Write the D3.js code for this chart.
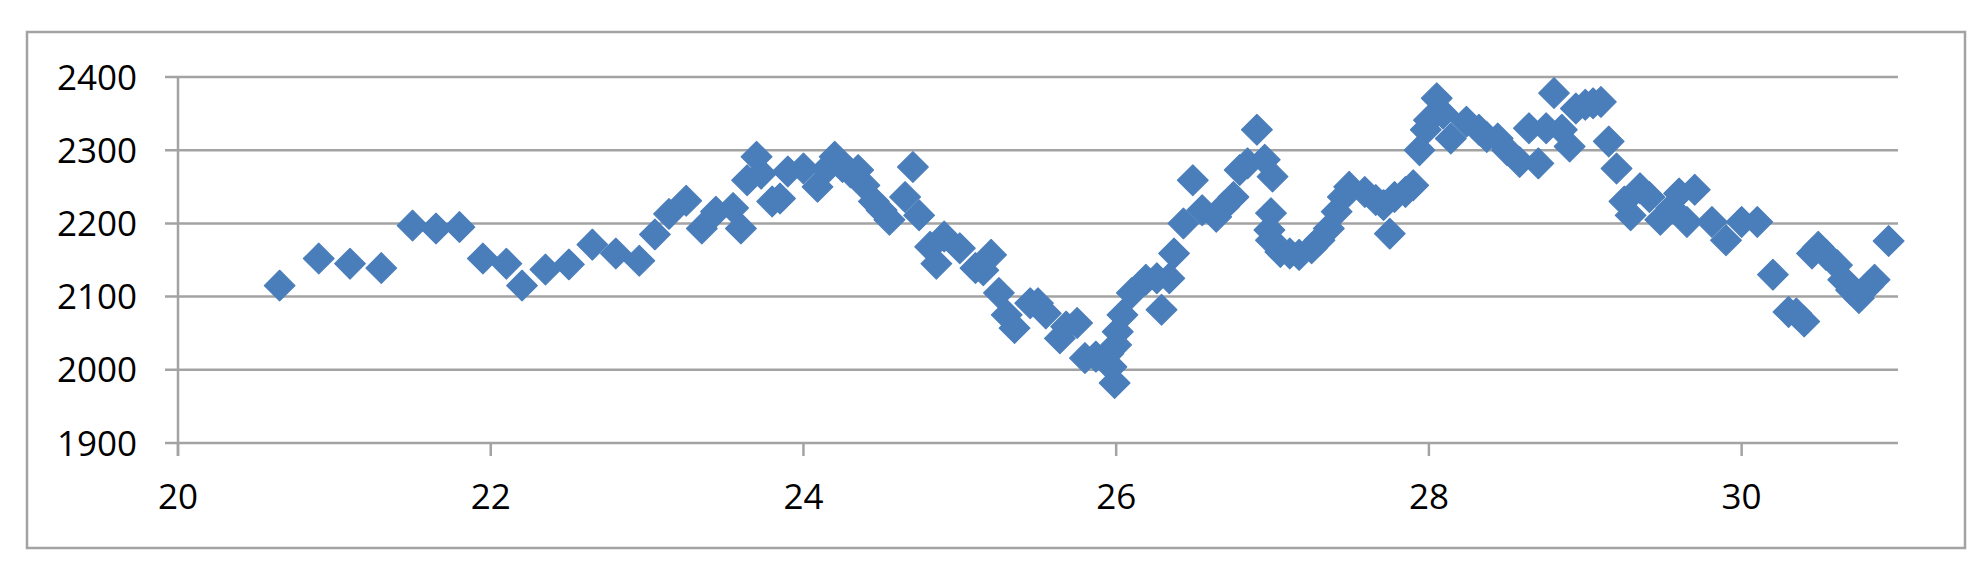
<!DOCTYPE html>
<html>
<head>
<meta charset="utf-8">
<script src="https://cdn.jsdelivr.net/npm/d3@7"></script>
<style>
  body { margin: 0; background: #fff; }
  text { font-family: "Open Sans", "Liberation Sans", sans-serif; fill: #000; }
</style>
</head>
<body>
<script>
// x values
const xVals = [
  20.65, 20.90, 21.10, 21.30, 21.50, 21.65, 21.80, 21.95, 22.10, 22.20,
  22.35, 22.50, 22.65, 22.80, 22.95, 23.05, 23.14, 23.25, 23.35, 23.44,
  23.55, 23.60, 23.64, 23.70, 23.73, 23.80, 23.85, 23.90, 24.00, 24.09,
  24.15, 24.20, 24.25, 24.30, 24.35, 24.39, 24.45, 24.50, 24.55, 24.65,
  24.70, 24.74, 24.81, 24.85, 24.90, 25.00, 25.10, 25.15, 25.20, 25.25,
  25.30, 25.35, 25.45, 25.50, 25.55, 25.64, 25.68, 25.75, 25.80, 25.87,
  25.95, 25.97, 25.99, 26.00, 26.01, 26.04, 26.10, 26.19, 26.26, 26.29,
  26.34, 26.37, 26.43, 26.49, 26.55, 26.64, 26.69, 26.75, 26.79, 26.84,
  26.90, 26.95, 27.00, 26.99, 26.98, 26.99, 27.05, 27.11, 27.17, 27.25,
  27.30, 27.36, 27.41, 27.45, 27.49, 27.59, 27.66, 27.71, 27.75, 27.78,
  27.85, 27.90, 27.94, 27.98, 28.00, 28.05, 28.09, 28.14, 28.24, 28.32,
  28.37, 28.44, 28.50, 28.58, 28.64, 28.70, 28.75, 28.80, 28.85, 28.90,
  28.94, 29.00, 29.05, 29.10, 29.15, 29.20, 29.25, 29.29, 29.35, 29.41,
  29.48, 29.55, 29.60, 29.65, 29.70, 29.81, 29.90, 30.00, 30.10, 30.20,
  30.30, 30.35, 30.40, 30.45, 30.49, 30.54, 30.61, 30.65, 30.70, 30.75,
  30.81, 30.85, 30.94
];
const yVals = [
  2115, 2152, 2145, 2139, 2197, 2193, 2195, 2152, 2145, 2115,
  2137, 2144, 2171, 2159, 2149, 2185, 2213, 2231, 2193, 2216,
  2221, 2193, 2259, 2291, 2268, 2230, 2234, 2271, 2275, 2250,
  2275, 2291, 2277, 2270, 2273, 2252, 2230, 2218, 2205, 2236,
  2277, 2211, 2168, 2145, 2182, 2166, 2139, 2136, 2157, 2105,
  2075, 2057, 2091, 2091, 2077, 2043, 2059, 2064, 2016, 2018,
  2022, 2004, 1982, 2034, 2052, 2075, 2105, 2123, 2125, 2082,
  2125, 2159, 2200, 2259, 2218, 2209, 2223, 2236, 2273, 2282,
  2328, 2287, 2264, 2214, 2191, 2177, 2161, 2159, 2157, 2166,
  2177, 2193, 2216, 2236, 2250, 2243, 2232, 2225, 2186, 2236,
  2243, 2252, 2300, 2328, 2341, 2371, 2350, 2316, 2339, 2328,
  2318, 2316, 2300, 2284, 2330, 2282, 2330, 2378, 2328, 2305,
  2357, 2362, 2364, 2366, 2312, 2275, 2230, 2211, 2248, 2236,
  2205, 2221, 2241, 2202, 2246, 2202, 2177, 2202, 2202, 2130,
  2079, 2077, 2066, 2159, 2168, 2157, 2143, 2123, 2109, 2098,
  2114, 2123, 2176
];
const xTicks = [20, 22, 24, 26, 28, 30];
const yTicks = [1900, 2000, 2100, 2200, 2300, 2400];

const w = 1986, h = 580;
const gray = "#a3a3a3";

const xScale = d3.scaleLinear().domain([20, 31]).range([178, 1898]);
const yScale = d3.scaleLinear().domain([1900, 2400]).range([443, 77]);

const svg = d3.select("body").append("svg")
  .attr("width", w)
  .attr("height", h);

// outer frame
svg.append("rect")
  .attr("x", 27).attr("y", 32)
  .attr("width", 1965 - 27).attr("height", 548 - 32)
  .attr("fill", "#fff")
  .attr("stroke", gray)
  .attr("stroke-width", 2.5);

// horizontal gridlines + y labels
svg.selectAll(".grid")
  .data(yTicks)
  .enter().append("line")
  .attr("x1", 165).attr("x2", xScale(31))
  .attr("y1", d => yScale(d)).attr("y2", d => yScale(d))
  .attr("stroke", gray).attr("stroke-width", 2.5);

svg.selectAll(".ylab")
  .data(yTicks)
  .enter().append("text")
  .attr("x", 137)
  .attr("y", d => yScale(d))
  .attr("dy", "0.36em")
  .attr("text-anchor", "end")
  .style("font-size", "35px")
  .text(d => d);

// y axis line
svg.append("line")
  .attr("x1", xScale(20)).attr("x2", xScale(20))
  .attr("y1", yScale(2400)).attr("y2", yScale(1900) + 13)
  .attr("stroke", gray).attr("stroke-width", 2.5);

// x ticks and labels
svg.selectAll(".xtick")
  .data(xTicks)
  .enter().append("line")
  .attr("x1", d => xScale(d)).attr("x2", d => xScale(d))
  .attr("y1", yScale(1900)).attr("y2", yScale(1900) + 13)
  .attr("stroke", gray).attr("stroke-width", 2.5);

svg.selectAll(".xlab")
  .data(xTicks)
  .enter().append("text")
  .attr("x", d => xScale(d))
  .attr("y", 509)
  .attr("text-anchor", "middle")
  .style("font-size", "35px")
  .text(d => d);

// diamond markers
const diamond = d3.symbol(d3.symbolSquare, 470);
svg.selectAll(".pt")
  .data(xVals.map((x, i) => [x, yVals[i]]))
  .enter().append("path")
  .attr("d", diamond)
  .attr("transform", d => `translate(${xScale(d[0])},${yScale(d[1])}) rotate(45)`)
  .attr("fill", "#4a7ebb")
  .attr("stroke", "#4a7ebb")
  .attr("stroke-width", 1.2)
  .attr("stroke-linejoin", "round");
</script>
</body>
</html>
